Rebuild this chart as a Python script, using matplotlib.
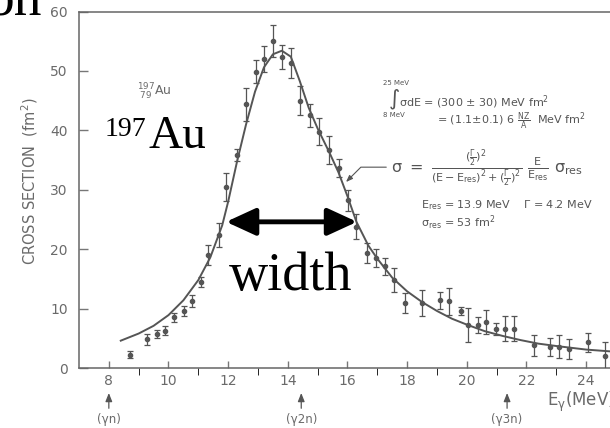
import matplotlib
matplotlib.use("Agg")
import matplotlib.pyplot as plt
from matplotlib.patches import FancyArrowPatch

plt.rcParams['font.family'] = ['DejaVu Sans']
plt.rcParams['mathtext.fontset'] = 'dejavusans'
plt.rcParams['mathtext.default'] = 'regular'

# measured points (E in MeV, cross section in fm^2, error)
energy = [8.70, 9.29, 9.62, 9.88, 10.18, 10.52, 10.80, 11.08, 11.33, 11.69,
          11.94, 12.31, 12.59, 12.94, 13.20, 13.50, 13.82, 14.12, 14.41, 14.73,
          15.05, 15.38, 15.70, 16.03, 16.28, 16.67, 16.95, 17.25, 17.56, 17.92,
          18.51, 19.09, 19.39, 19.80, 20.05, 20.36, 20.64, 20.98, 21.29, 21.59,
          22.24, 22.80, 23.10, 23.44, 24.05, 24.64]
sigma = [2.2, 4.8, 5.7, 6.3, 8.5, 9.6, 11.3, 14.5, 19.0, 22.4,
         30.5, 35.9, 44.4, 49.9, 52.0, 55.1, 52.3, 51.3, 45.0, 42.5,
         39.8, 36.7, 33.6, 28.2, 23.8, 19.3, 18.5, 17.1, 14.8, 10.9,
         10.9, 11.4, 11.2, 9.6, 7.2, 7.2, 7.8, 6.6, 6.6, 6.6,
         3.8, 3.5, 3.6, 3.2, 4.3, 2.0]
sigma_err = [0.6, 0.9, 0.7, 0.8, 0.8, 0.8, 1.0, 0.8, 1.7, 2.0,
             2.4, 1.0, 2.8, 2.0, 2.2, 2.7, 2.0, 2.5, 2.4, 2.0,
             2.2, 2.4, 1.5, 1.7, 2.1, 1.7, 1.5, 1.4, 2.0, 1.7,
             2.2, 1.4, 2.2, 0.7, 2.9, 1.3, 2.0, 1.0, 2.1, 2.1,
             1.7, 1.5, 2.0, 1.7, 1.6, 2.4]

# Lorentz fit curve
fit_e = [8.4, 9.0, 9.5, 10.0, 10.5, 11.0, 11.4, 11.8, 12.0, 12.3, 12.6, 12.9,
         13.2, 13.5, 13.8, 14.1, 14.4, 14.7, 15.0, 15.4, 15.7, 16.0, 16.3,
         16.7, 17.0, 17.5, 18.0, 18.5, 19.0, 19.5, 20.0, 20.6, 21.2, 21.8,
         22.4, 23.0, 24.0, 24.8]
fit_sigma = [4.6, 5.8, 7.1, 8.9, 11.4, 14.8, 18.6, 24.0, 28.0, 34.8, 41.0, 46.5,
             50.6, 52.8, 53.4, 52.4, 48.3, 43.8, 40.3, 36.2, 32.9, 28.9, 24.6,
             20.6, 18.4, 15.2, 12.9, 11.1, 9.6, 8.3, 7.3, 6.2, 5.4, 4.7,
             4.1, 3.7, 3.1, 2.8]

xticks = [8, 10, 12, 14, 16, 18, 20, 22, 24]
yticks = [0, 10, 20, 30, 40, 50, 60]
thresholds = [(8.0, '(γn)'), (14.45, '(γ2n)'), (21.35, '(γ3n)')]

gray = '#555555'
tgray = '#6a6a6a'
serif = ['Liberation Serif', 'DejaVu Serif']

fig = plt.figure(figsize=(6.1, 4.28), dpi=100)
ax = fig.add_axes([79 / 610, 1 - 368 / 428, 531 / 610, 356.5 / 428])

ax.plot(fit_e, fit_sigma, color=gray, lw=1.4, zorder=2)
ax.errorbar(energy, sigma, yerr=sigma_err, fmt='o', ms=3, color=gray,
            ecolor=gray, elinewidth=0.9, capsize=2.5, capthick=0.9, zorder=3)

ax.set_xlim(7, 24.8)
ax.set_ylim(0, 60)
ax.set_xticks(xticks)
ax.set_xticks(range(9, 25, 2), minor=True)
ax.set_yticks(yticks)
ax.tick_params(axis='both', direction='in', colors='#777777', labelcolor=tgray,
               labelsize=10, width=1.0)
ax.tick_params(axis='y', length=6.5, pad=8)
ax.tick_params(axis='x', which='both', length=5, pad=4)
for s in ['left', 'bottom', 'top']:
    ax.spines[s].set_color('#666666')
    ax.spines[s].set_linewidth(1.1)
ax.spines['right'].set_visible(False)

# threshold arrows under the axis
for xe, lab in thresholds:
    ax.annotate('', xy=(xe, 0), xycoords='data', xytext=(0, -29),
                textcoords='offset points',
                arrowprops=dict(arrowstyle='-|>,head_length=0.5,head_width=0.2',
                                color=gray, lw=0.9, shrinkA=0, shrinkB=18),
                annotation_clip=False)
    ax.annotate(lab, xy=(xe, 0), xycoords='data', xytext=(0, -37),
                textcoords='offset points', ha='center', va='center',
                fontsize=8.5, color=tgray, annotation_clip=False)

fig.text(547 / 610, 1 - 402 / 428, r'E$_\gamma$(MeV)', fontsize=12, color=tgray,
         ha='left', va='center')
fig.text(30 / 610, 1 - 181 / 428, r'CROSS SECTION  (fm$^2$)', rotation=90,
         fontsize=10.5, color=tgray, ha='center', va='center')

# nucleus label
ax.text(8.94, 46.5, r'$^{197}_{\ 79}$Au', fontsize=9, color=tgray,
        ha='left', va='center')

# integral
ax.text(17.36, 45.1, r'$\int$', fontsize=11, color=gray, ha='left', va='center')
ax.text(17.2, 47.9, '25 MeV', fontsize=5, color=gray, ha='left', va='center')
ax.text(17.2, 42.5, '8 MeV', fontsize=5, color=gray, ha='left', va='center')
ax.text(17.72, 44.8, r'$\sigma$dE = (300 $\pm$ 30) MeV fm$^2$', fontsize=8,
        color=gray, ha='left', va='center')
ax.text(19.0, 41.6, r'= (1.1$\pm$0.1) 6 $\frac{NZ}{A}$  MeV fm$^2$', fontsize=8,
        color=gray, ha='left', va='center')

# Lorentz formula
ax.text(17.45, 33.6,
        r'$\sigma\ =\ \frac{(\frac{\Gamma}{2})^2}{(E-E_{res})^2+(\frac{\Gamma}{2})^2}'
        r'\ \frac{E}{E_{res}}\ \sigma_{res}$',
        fontsize=11.5, color=gray, ha='left', va='center')
ax.text(18.47, 27.4, r'E$_{res}$ = 13.9 MeV    $\Gamma$ = 4.2 MeV', fontsize=8,
        color=gray, ha='left', va='center')
ax.text(18.47, 24.4, r'$\sigma_{res}$ = 53 fm$^2$', fontsize=8,
        color=gray, ha='left', va='center')
ax.annotate('', xy=(15.95, 31.3), xytext=(17.3, 33.8),
            arrowprops=dict(arrowstyle='-|>,head_length=0.4,head_width=0.15',
                            color=gray, lw=0.8, shrinkA=0, shrinkB=0,
                            connectionstyle='angle,angleA=0,angleB=45,rad=0'))

# slide overlays
ax.text(7.87, 39.1, '197', fontsize=20, family=serif, color='black',
        ha='left', va='baseline')
ax.text(9.34, 37.0, 'Au', fontsize=34, family=serif, color='black',
        ha='left', va='baseline')
ax.text(12.03, 13.1, 'width', fontsize=39, family=serif, color='black',
        ha='left', va='baseline')
ax.add_patch(FancyArrowPatch((11.93, 24.6), (16.32, 24.6),
                             arrowstyle='<|-|>,head_length=1.0,head_width=0.46',
                             mutation_scale=18, color='black', lw=3.5,
                             shrinkA=0, shrinkB=0, zorder=5))
fig.text(42 / 610, 1 - 15 / 428, 'on', fontsize=40, family=serif, color='black',
         ha='right', va='baseline')

fig.savefig('out.png', dpi=100)
